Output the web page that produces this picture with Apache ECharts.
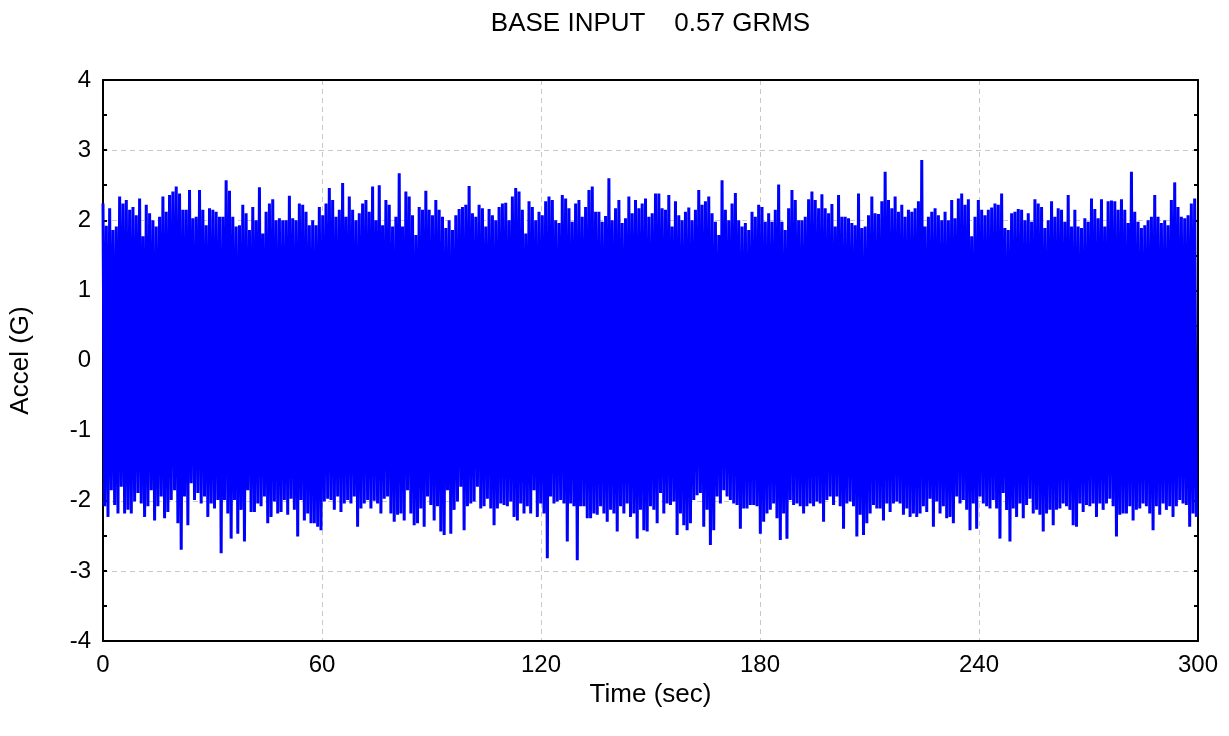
<!DOCTYPE html>
<html>
<head>
<meta charset="utf-8">
<title>Base input</title>
<script src="https://cdn.jsdelivr.net/npm/echarts@6/dist/echarts.min.js"></script>
<style>
  html, body { margin: 0; padding: 0; background: #fff; }
  #chart { width: 1229px; height: 736px; }
</style>
</head>
<body>
<div id="chart"></div>
<script>
// positive peaks of the record, read left to right (G)
const upperPeaks = [
  2.24, 1.92, 2.17, 1.86, 1.91, 2.34, 2.24, 2.29, 2.15, 2.19,
  2.07, 2.31, 1.77, 2.22, 2.10, 2.00, 1.91, 2.05, 2.34, 2.12,
  2.36, 2.41, 2.48, 2.38, 2.15, 2.15, 2.43, 2.03, 2.05, 2.43,
  2.15, 1.93, 2.17, 2.15, 2.12, 2.05, 2.05, 2.57, 2.42, 2.05,
  1.91, 1.93, 2.22, 2.10, 1.86, 2.19, 2.00, 2.47, 1.81, 2.12,
  2.24, 2.30, 2.00, 2.03, 2.00, 2.00, 2.35, 2.03, 2.00, 2.24,
  2.22, 2.12, 1.93, 2.00, 1.93, 2.19, 2.07, 2.24, 2.46, 2.29,
  2.05, 2.15, 2.53, 2.05, 2.34, 2.15, 2.00, 2.10, 2.24, 2.29,
  2.12, 2.48,
  2.00, 2.50, 1.93, 2.29, 2.22, 1.91, 2.05, 2.67, 1.91, 2.41,
  2.34, 2.07, 1.79, 2.19, 2.15, 2.42, 2.15, 2.07, 2.29, 2.15,
  2.05, 1.89, 2.00, 1.86, 2.07, 2.16, 2.19, 2.22, 2.49, 2.10,
  2.05, 2.22, 2.17, 1.91, 2.16, 2.07, 2.00, 2.19, 2.24, 2.25,
  2.00, 2.34, 2.46, 2.41, 2.15, 1.81, 2.27, 2.19, 2.00, 2.12,
  2.07, 2.27, 2.34, 2.29, 2.00, 1.96, 2.36, 2.31, 2.17, 1.98,
  2.24, 2.29, 2.05, 2.19, 2.43, 2.48, 2.12, 2.12, 1.98, 2.06,
  2.60, 2.00, 2.17, 2.29, 1.96, 2.03, 2.34, 2.10, 2.29, 2.17,
  2.24, 2.31,
  2.05, 2.10, 2.38, 2.38, 2.17, 2.15, 2.36, 1.91, 2.27, 2.07,
  2.00, 2.12, 2.18, 2.00, 2.15, 2.43, 2.22, 2.27, 2.34, 2.10,
  1.98, 1.79, 2.57, 2.15, 2.00, 2.24, 2.39, 2.00, 1.91, 1.96,
  1.86, 2.12, 2.05, 2.22, 2.19, 1.98, 2.10, 1.98, 2.15, 2.51,
  1.98, 1.86, 2.17, 2.43, 2.29, 2.00, 2.00, 2.05, 2.30, 2.41,
  2.29, 2.17, 2.37, 2.17, 2.10, 2.23, 1.91, 2.36, 2.05, 2.05,
  2.03, 1.96, 1.93, 2.38, 1.89, 1.91, 2.07, 2.34, 2.10, 2.09,
  2.27, 2.69, 2.29, 2.17, 2.34, 2.12, 2.22, 2.05, 2.15, 2.12,
  2.17, 2.27, 2.86,
  1.91, 2.05, 2.12, 2.17, 2.07, 2.00, 2.12, 2.00, 2.29, 2.03,
  2.31, 2.38, 2.22, 2.30, 1.77, 2.05, 2.29, 2.15, 2.07, 2.15,
  2.18, 2.24, 2.22, 2.38, 1.89, 1.86, 2.10, 2.12, 2.16, 2.15,
  2.00, 2.10, 1.98, 2.30, 2.24, 2.19, 1.89, 2.00, 2.27, 2.05,
  2.17, 2.15, 1.98, 2.36, 1.91, 2.15, 1.91, 1.89, 2.03, 1.98,
  2.31, 2.16, 2.03, 2.30, 1.91, 2.27, 2.28, 2.27, 2.15, 2.30,
  2.15, 1.96, 2.69, 2.12, 1.98, 1.89, 1.93, 2.00, 2.05, 2.36,
  2.05, 1.96, 2.00, 1.93, 2.29, 2.54, 2.19, 2.05, 2.03, 2.07,
  2.24, 2.31
];

// negative peaks, same order (G)
const lowerPeaks = [
  -2.08, -2.23, -1.85, -2.06, -2.18, -1.80, -2.18, -2.13, -2.18, -2.01,
  -1.89, -2.04, -2.23, -2.08, -1.85, -2.28, -2.08, -1.94, -2.25, -2.16,
  -1.99, -1.85, -2.32, -2.70, -1.94, -2.35, -1.75, -1.99, -1.89, -2.04,
  -1.94, -2.23, -2.04, -2.11, -1.99, -2.75, -1.99, -2.18, -2.54, -1.99,
  -2.47, -2.13, -2.58, -1.85, -2.16, -2.16, -2.04, -2.08, -1.94, -2.32,
  -2.23, -2.01, -2.18, -2.16, -1.99, -2.20, -1.97, -2.13, -2.51, -1.99,
  -2.28, -2.18, -2.32, -2.32, -2.37, -2.42, -2.01, -1.97, -1.99, -2.13,
  -1.94, -2.16, -2.04, -1.99, -2.04, -1.94, -2.37, -2.11, -2.04, -1.99,
  -2.11, -2.00,
  -2.04, -2.18, -1.97, -1.94, -2.18, -2.30, -2.20, -2.18, -2.28, -1.85,
  -2.18, -2.35, -2.32, -2.11, -2.37, -1.94, -2.06, -2.28, -2.08, -2.44,
  -2.49, -1.85, -2.47, -2.13, -2.01, -1.80, -2.42, -2.08, -2.04, -2.01,
  -1.80, -2.11, -2.08, -1.97, -2.11, -2.35, -2.11, -2.04, -2.06, -2.08,
  -2.01, -2.23, -2.28, -2.04, -2.18, -2.08, -2.18, -1.85, -2.23, -2.04,
  -2.18, -2.82, -1.94, -2.04, -2.01, -1.99, -2.04, -2.58, -2.04, -2.08,
  -2.85, -2.08, -2.08, -2.25, -2.25, -2.18, -2.20, -2.08, -2.18, -2.30,
  -2.13, -2.18, -2.44, -2.08, -2.18, -2.04, -2.23, -2.18, -2.54, -2.13,
  -2.42, -2.44,
  -2.08, -2.13, -2.32, -1.89, -2.18, -2.04, -2.06, -2.01, -2.49, -2.18,
  -2.35, -2.42, -2.32, -1.99, -1.92, -1.89, -2.37, -2.13, -2.63, -2.42,
  -1.94, -2.04, -1.85, -1.94, -1.99, -2.04, -2.06, -2.40, -2.11, -2.11,
  -2.06, -2.06, -2.08, -2.47, -2.30, -2.18, -2.13, -2.04, -2.25, -2.56,
  -2.18, -2.54, -1.99, -2.06, -2.04, -2.08, -2.18, -2.08, -2.04, -2.08,
  -2.01, -2.04, -2.30, -1.99, -1.94, -2.06, -1.94, -2.08, -2.40, -2.04,
  -2.01, -2.08, -2.51, -2.20, -2.49, -2.32, -2.18, -2.06, -2.11, -2.11,
  -2.28, -2.04, -2.16, -2.04, -2.01, -2.04, -2.20, -2.11, -2.23, -2.18,
  -2.23, -2.18, -2.08,
  -2.16, -1.97, -2.37, -2.01, -2.18, -2.08, -2.25, -2.23, -2.32, -1.94,
  -2.04, -1.99, -2.13, -2.42, -2.04, -2.40, -1.94, -2.04, -2.08, -2.11,
  -1.99, -2.11, -2.54, -1.89, -2.13, -2.58, -2.11, -2.23, -2.04, -2.25,
  -2.06, -1.97, -2.18, -2.13, -2.20, -2.44, -2.18, -2.13, -2.35, -2.13,
  -2.11, -2.04, -2.08, -2.13, -2.35, -2.37, -2.04, -2.16, -2.06, -2.08,
  -2.04, -2.23, -2.04, -2.13, -2.04, -1.97, -2.08, -2.51, -2.20, -2.18,
  -2.18, -2.08, -2.28, -2.13, -2.11, -2.04, -2.08, -2.18, -2.42, -2.08,
  -2.20, -2.04, -2.13, -2.08, -2.23, -2.08, -1.99, -2.04, -2.06, -2.37,
  -2.18, -2.23
];

const timeTicks = [0, 60, 120, 180, 240, 300];
const accelTicks = [-4, -3, -2, -1, 0, 1, 2, 3, 4];

const DURATION = 300;
const step = DURATION / upperPeaks.length;

// alternate positive / negative peaks so the trace fills the band
const trace = [];
upperPeaks.forEach((u, i) => {
  trace.push([i * step, u]);
  trace.push([(i + 0.5) * step, lowerPeaks[i]]);
});

const FONT = 'Liberation Sans, Arial, sans-serif';
const chart = echarts.init(document.getElementById('chart'), null, { renderer: 'canvas' });

const gridLine = { show: true, lineStyle: { color: '#c8c8c8', type: [5, 4], width: 1 } };
const frameLine = { show: true, onZero: false, lineStyle: { color: '#000', width: 2 } };
const innerTick = { show: true, inside: true, length: 4, lineStyle: { color: '#000', width: 2 } };

chart.setOption({
  animation: false,
  backgroundColor: '#ffffff',
  grid: { left: 102, right: 31, top: 80, bottom: 95 },
  xAxis: [
    {
      type: 'value',
      min: timeTicks[0],
      max: timeTicks[timeTicks.length - 1],
      interval: 60,
      name: 'Time (sec)',
      nameLocation: 'middle',
      nameGap: 36,
      nameTextStyle: { fontFamily: FONT, fontSize: 26, color: '#000' },
      axisLine: frameLine,
      axisTick: { show: false },
      axisLabel: { fontFamily: FONT, fontSize: 24, color: '#000', margin: 12 },
      splitLine: gridLine,
    },
    {
      // top frame edge, carries the title centred over the plot
      type: 'value',
      position: 'top',
      min: 0,
      max: DURATION,
      name: 'BASE INPUT    0.57 GRMS',
      nameLocation: 'middle',
      nameGap: 43,
      nameTextStyle: { fontFamily: FONT, fontSize: 26, color: '#000' },
      axisLine: frameLine,
      axisTick: { show: false },
      axisLabel: { show: false },
      splitLine: { show: false },
    },
  ],
  yAxis: [
    {
      type: 'value',
      min: accelTicks[0],
      max: accelTicks[accelTicks.length - 1],
      interval: 1,
      name: 'Accel (G)',
      nameLocation: 'middle',
      nameGap: 69,
      nameTextStyle: { fontFamily: FONT, fontSize: 26, color: '#000' },
      axisLine: frameLine,
      axisTick: innerTick,
      minorTick: { show: true, splitNumber: 2, length: 4, lineStyle: { color: '#000', width: 2 } },
      axisLabel: { fontFamily: FONT, fontSize: 24, color: '#000', margin: 12 },
      splitLine: gridLine,
    },
    {
      type: 'value',
      position: 'right',
      min: -4,
      max: 4,
      interval: 1,
      axisLine: frameLine,
      axisTick: innerTick,
      minorTick: { show: true, splitNumber: 2, length: 4, lineStyle: { color: '#000', width: 2 } },
      axisLabel: { show: false },
      splitLine: { show: false },
    },
  ],
  series: [
    {
      type: 'line',
      data: trace,
      showSymbol: false,
      symbol: 'none',
      sampling: null,
      lineStyle: { color: '#0000ff', width: 3 },
      z: 1,
    },
  ],
});
</script>
</body>
</html>
